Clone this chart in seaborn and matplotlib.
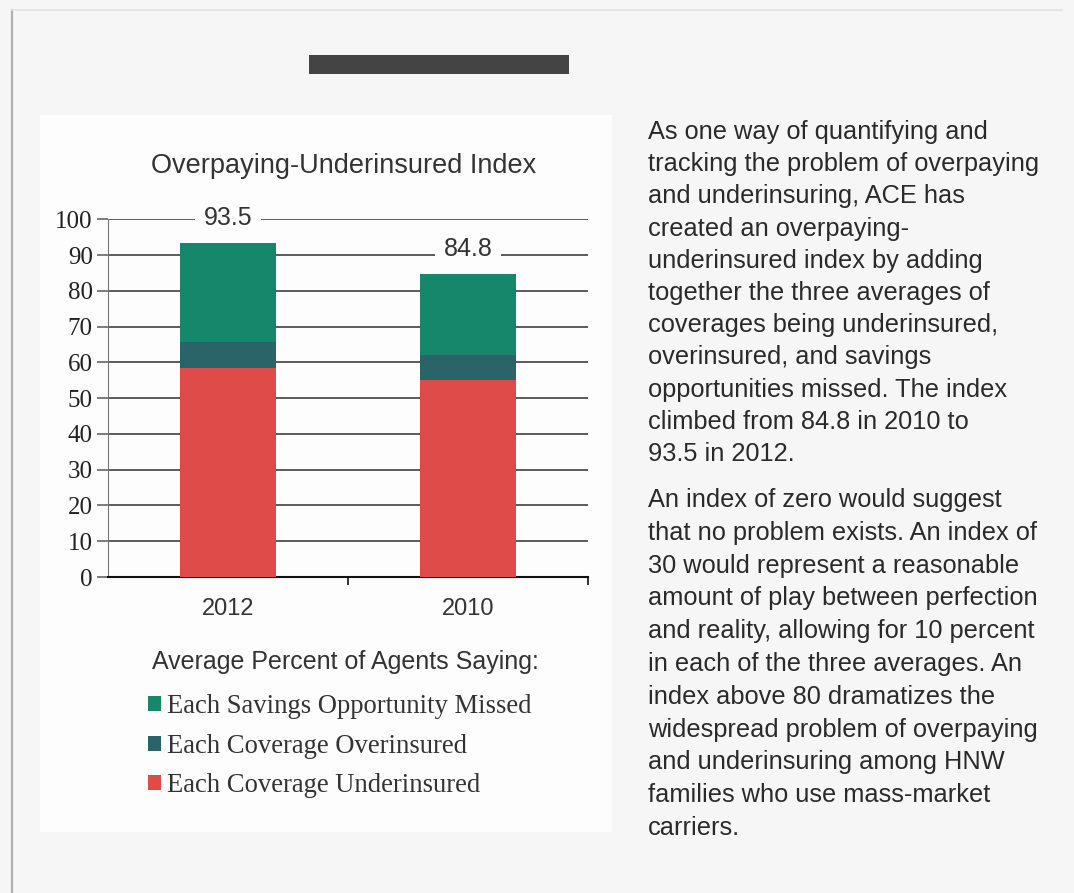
import matplotlib
matplotlib.use("Agg")
import matplotlib.pyplot as plt
import seaborn as sns
import pandas as pd
from matplotlib.patches import Rectangle
from matplotlib.lines import Line2D

# data
years = ["2012", "2010"]
underinsured = [58.3, 55.0]
overinsured = [7.5, 7.0]
savings_missed = [27.7, 22.8]
index_totals = [93.5, 84.8]
series = ["Each Savings Opportunity Missed", "Each Coverage Overinsured", "Each Coverage Underinsured"]
colors = ["#17876b", "#2b6468", "#de4b48"]
yticks = [0, 10, 20, 30, 40, 50, 60, 70, 80, 90, 100]

para1 = ["As one way of quantifying and",
         "tracking the problem of overpaying",
         "and underinsuring, ACE has",
         "created an overpaying-",
         "underinsured index by adding",
         "together the three averages of",
         "coverages being underinsured,",
         "overinsured, and savings",
         "opportunities missed. The index",
         "climbed from 84.8 in 2010 to",
         "93.5 in 2012."]
para2 = ["An index of zero would suggest",
         "that no problem exists. An index of",
         "30 would represent a reasonable",
         "amount of play between perfection",
         "and reality, allowing for 10 percent",
         "in each of the three averages. An",
         "index above 80 dramatizes the",
         "widespread problem of overpaying",
         "and underinsuring among HNW",
         "families who use mass-market",
         "carriers."]

# stacked bars drawn as overlapping cumulative heights
rows = []
for i, y in enumerate(years):
    rows.append((y, series[0], underinsured[i] + overinsured[i] + savings_missed[i]))
    rows.append((y, series[1], underinsured[i] + overinsured[i]))
    rows.append((y, series[2], underinsured[i]))
df = pd.DataFrame(rows, columns=["year", "series", "value"])

W, H = 1074, 893
fig = plt.figure(figsize=(W / 100, H / 100), dpi=100)
fig.patch.set_facecolor("#f6f6f7")

def fx(px):
    return px / W

def fy(py):
    return 1 - py / H

# page edges, white chart panel, black bar on top
fig.lines.append(Line2D([fx(12), fx(12)], [fy(893), fy(10)], transform=fig.transFigure,
                        color="#b0b0b0", lw=1.6, zorder=-3))
fig.lines.append(Line2D([fx(12), fx(1062)], [fy(10), fy(10)], transform=fig.transFigure,
                        color="#e2e2e2", lw=1.2, zorder=-3))
fig.patches.append(Rectangle((fx(40), fy(832)), fx(572), (832 - 115) / H, transform=fig.transFigure,
                             facecolor="#fdfdfd", edgecolor="none", zorder=-4))
fig.patches.append(Rectangle((fx(309), fy(74)), fx(260), 19 / H, transform=fig.transFigure,
                             facecolor="#444444", edgecolor="none", zorder=1))

ax = fig.add_axes([fx(108), fy(577), fx(480), (577 - 219.3) / H])
ax.set_facecolor("none")
sns.barplot(data=df, x="year", y="value", hue="series", hue_order=series, order=years,
            palette=colors, dodge=False, width=0.4, saturation=1, ax=ax, zorder=3)

ax.set_ylim(0, 100)
ax.set_xlim(-0.5, 1.5)
ax.set_yticks(yticks)
ax.set_yticklabels([str(t) for t in yticks], family="Liberation Serif", fontsize=18, color="#222222")
ax.tick_params(axis="y", length=8, width=1.2, color="#666666", pad=3)
ax.tick_params(axis="x", length=0, pad=15, labelsize=17, labelcolor="#333333")
for lab in ax.get_xticklabels():
    lab.set_family("Liberation Sans")
ax.grid(axis="y", color="#4f4f4f", lw=1.3, zorder=0)
ax.set_axisbelow(True)
ax.set_xlabel("")
ax.set_ylabel("")
for s in ["top", "right"]:
    ax.spines[s].set_visible(False)
ax.spines["left"].set_color("#777777")
ax.spines["bottom"].set_color("#111111")
ax.spines["bottom"].set_linewidth(1.5)
# category separators
ax.set_xticks([0.5, 1.5], minor=True)
ax.tick_params(axis="x", which="minor", length=6, width=1.2, color="#111111")

# index totals above bars
ax.bar_label(ax.containers[0], labels=[f"{v}" for v in index_totals], padding=9,
             fontsize=18, family="Liberation Sans", color="#333333",
             bbox=dict(facecolor="#fdfdfd", edgecolor="none", pad=6))

ax.legend_.remove()
handles = [Rectangle((0, 0), 1, 1, facecolor=c) for c in colors]
leg = fig.legend(handles, series, loc="upper left", bbox_to_anchor=(fx(148), fy(694)),
                 frameon=False, prop={"family": "Liberation Serif", "size": 19.2},
                 handlelength=0.5, handleheight=0.5, handletextpad=0.2, labelspacing=0.55,
                 borderaxespad=0, borderpad=0)
for t in leg.get_texts():
    t.set_color("#333333")

title_font = dict(family="Liberation Sans", color="#333333", ha="center", va="center")
fig.text(fx(344), fy(166), "Overpaying-Underinsured Index", fontsize=19.5, **title_font)
fig.text(fx(345), fy(662), "Average Percent of Agents Saying:", fontsize=18, **title_font)

for i, line in enumerate(para1):
    fig.text(fx(648), fy(132 + i * 32.2), line, family="Liberation Sans", fontsize=18.3,
             color="#2a2a2a", va="center", ha="left")
for i, line in enumerate(para2):
    fig.text(fx(648), fy(500 + i * 32.8), line, family="Liberation Sans", fontsize=18.3,
             color="#2a2a2a", va="center", ha="left")

fig.savefig("out.png", dpi=100, facecolor=fig.get_facecolor())
